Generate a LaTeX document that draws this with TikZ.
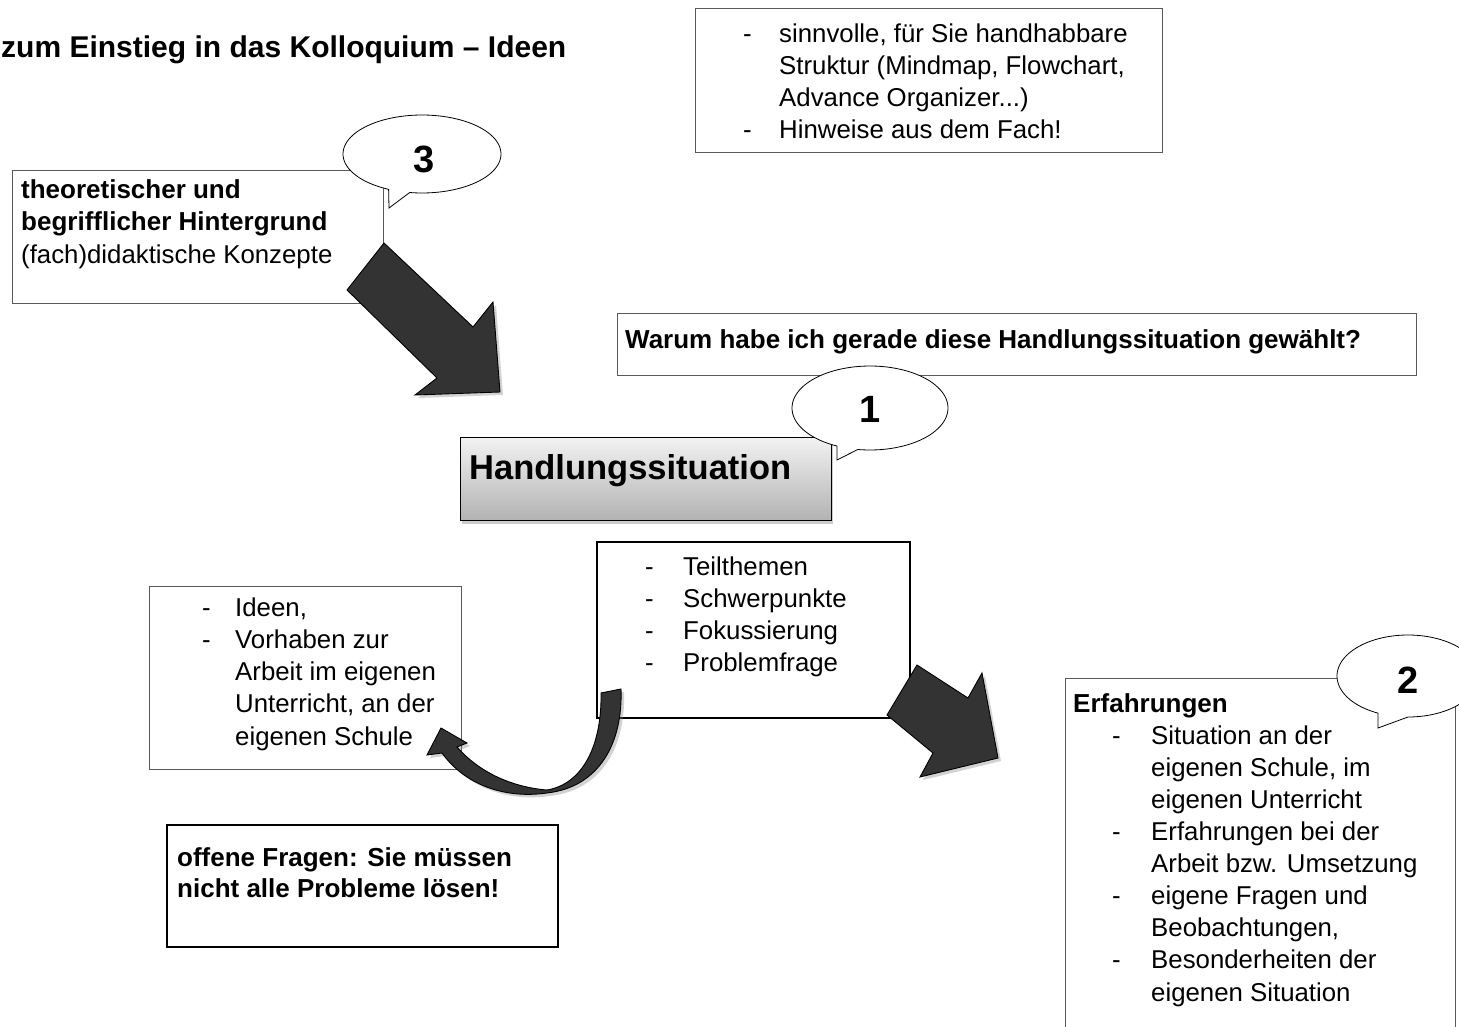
\documentclass[tikz,border=0pt]{standalone}
\usepackage{fontspec}
\setmainfont{Liberation Sans}
\usetikzlibrary{shadows}
\newcommand\frg{\fontsize{25.8}{32}\selectfont}
\newcommand\fbd{\fontsize{26}{32}\selectfont\bfseries}
\tikzset{
  txt/.style={inner sep=0pt, anchor=base west, font=\frg},
  btxt/.style={inner sep=0pt, anchor=base west, font=\fbd},
  numtxt/.style={inner sep=0pt, font=\fontsize{38}{40}\selectfont\bfseries},
  thinbox/.style={draw=black!65, line width=0.9pt, fill=white},
  thickbox/.style={draw=black, line width=2.6pt, fill=white},
  callout/.style={draw=black, line width=0.8pt, fill=white},
  bigarrow/.style={draw=black, line width=0.9pt, fill=black!80,
     drop shadow={opacity=0.35, shadow xshift=3pt, shadow yshift=-3pt}},
}
\begin{document}
\begin{tikzpicture}[x=1pt,y=-1pt]
\clip (0,0) rectangle (1459,1027);
\fill[white] (0,0) rectangle (1459,1027);

% title
\node[inner sep=0pt, anchor=base west, font=\fontsize{30}{32}\selectfont\bfseries] (title) at (1,58) {zum Einstieg in das Kolloquium – Ideen};

% top box
\draw[thinbox] (695,8) rectangle (1162,152);
\node[txt] (d1) at (743,43) {-};
\node[txt] (s1) at (779,43) {sinnvolle, für Sie handhabbare};
\node[txt] (s2) at (779,75) {Struktur (Mindmap, Flowchart,};
\node[txt] (s3) at (779,107) {Advance Organizer...)};
\node[txt] (d2) at (743,139) {-};
\node[txt] (s4) at (779,139) {Hinweise aus dem Fach!};

% left box
\draw[thinbox] (12,170) rectangle (383,303);
\node[btxt] (l1) at (21,199) {theoretischer und};
\node[btxt] (l2) at (21,231) {begrifflicher Hintergrund};
\node[txt] (l3) at (21,263) {(fach)didaktische Konzepte};

% Warum box
\draw[thinbox] (617,313) rectangle (1416,375);
\node[btxt] (w1) at (625,348) {Warum habe ich gerade diese Handlungssituation gewählt?};

% Handlungssituation
\draw[draw=black, line width=1pt, top color=black!5, bottom color=black!30,
   drop shadow={opacity=0.4, shadow xshift=2pt, shadow yshift=-4pt}] (460,437) rectangle (831,520);
\node[inner sep=0pt, anchor=base west, font=\fontsize{34.5}{36}\selectfont\bfseries] (hs) at (469,479) {Handlungssituation};

% Teilthemen box
\draw[thickbox] (597,542) rectangle (910,718);
\node[txt] (td1) at (645,575) {-};
\node[txt] (t1) at (683,575) {Teilthemen};
\node[txt] (td2) at (645,607) {-};
\node[txt] (t2) at (683,607) {Schwerpunkte};
\node[txt] (td3) at (645,639) {-};
\node[txt] (t3) at (683,639) {Fokussierung};
\node[txt] (td4) at (645,671) {-};
\node[txt] (t4) at (683,671) {Problemfrage};

% Ideen box
\draw[thinbox] (149,586) rectangle (461,769);
\node[txt] (id1) at (202,616) {-};
\node[txt] (i1) at (235,616) {Ideen,};
\node[txt] (id2) at (202,648) {-};
\node[txt] (i2) at (235,648) {Vorhaben zur};
\node[txt] (i3) at (235,680) {Arbeit im eigenen};
\node[txt] (i4) at (235,712) {Unterricht, an der};
\node[txt] (i5) at (235,745) {eigenen Schule};

% offene Fragen box
\draw[thickbox] (167,825) rectangle (558,947);
\node[btxt] (o1) at (177,866) {offene Fragen: Sie müssen};
\node[btxt] (o2) at (177,897) {nicht alle Probleme lösen!};

% Erfahrungen box (open at bottom)
\draw[thinbox] (1065,1040) -- (1065,678) -- (1455,678) -- (1455,1040);
\node[btxt] (e0) at (1073,712) {Erfahrungen};
\node[txt] (ed1) at (1112,744) {-};
\node[txt] (e1) at (1151,744) {Situation an der};
\node[txt] (e2) at (1151,776) {eigenen Schule, im};
\node[txt] (e3) at (1151,808) {eigenen Unterricht};
\node[txt] (ed2) at (1112,840) {-};
\node[txt] (e4) at (1151,840) {Erfahrungen bei der};
\node[txt] (e5) at (1151,872) {Arbeit bzw. Umsetzung};
\node[txt] (ed3) at (1112,904) {-};
\node[txt] (e6) at (1151,904) {eigene Fragen und};
\node[txt] (e7) at (1151,936) {Beobachtungen,};
\node[txt] (ed4) at (1112,968) {-};
\node[txt] (e8) at (1151,968) {Besonderheiten der};
\node[txt] (e9) at (1151,1001) {eigenen Situation};

% callouts
\filldraw[callout] plot[domain=115:459, samples=100] ({422+79*cos(\x)},{154+39*sin(\x)}) -- (389,208) -- cycle;
\node[numtxt] (n3) at (424,159) {3};
\filldraw[callout] plot[domain=115:459, samples=100] ({870+78*cos(\x)},{408+42*sin(\x)}) -- (837,460) -- cycle;
\node[numtxt] (n1) at (870,409) {1};
\filldraw[callout] plot[domain=115:450, samples=100] ({1408+71*cos(\x)},{676+41*sin(\x)}) -- (1378,728) -- cycle;
\node[numtxt] (n2) at (1408,680) {2};

% big arrows
\filldraw[bigarrow] (384,243) -- (473,327) -- (493,302) -- (500,392) -- (415,395) -- (437,378) -- (347,290) -- cycle;
\filldraw[bigarrow] (917,665) -- (968,698) -- (982,673) -- (998,758) -- (920,777) -- (933,753) -- (887,715) -- cycle;

% curved arrow
\filldraw[bigarrow] (601,693) -- (621,689) .. controls (623,742) and (600,787) .. (547,793)
   .. controls (505,799) and (465,785) .. (442,753) -- (427,755) -- (441,728) -- (467,743) -- (457,747)
   .. controls (478,771) and (510,787) .. (547,790)
   .. controls (583,784) and (602,745) .. (601,693) -- cycle;
\end{tikzpicture}
\end{document}
